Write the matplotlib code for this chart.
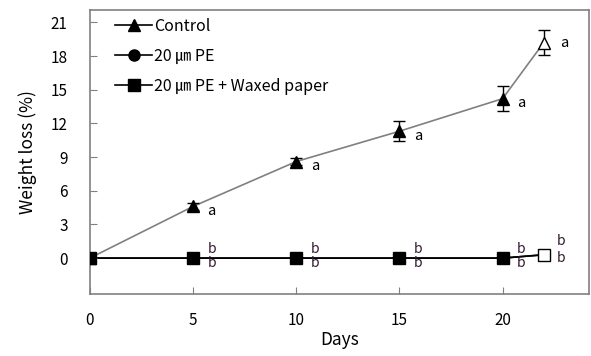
import numpy as np
import matplotlib
matplotlib.use("Agg")
import matplotlib.pyplot as plt

plt.rcParams['font.family'] = ['Noto Sans CJK KR', 'DejaVu Sans']

# Data
days = [0, 5, 10, 15, 20]
control = [0, 4.6, 8.6, 11.3, 14.2]
control_err = [0, 0.3, 0.3, 0.9, 1.1]
control_last_day = 22
control_last = 19.2
control_last_err = 1.1

pe = [0, 0, 0, 0, 0]
waxed = [0, 0, 0, 0, 0]
waxed_last = 0.3
pe_last = 0.3

yticks = [0, 3, 6, 9, 12, 15, 18, 21]
xticks = [0, 5, 10, 15, 20]

fig = plt.figure(figsize=(5.91, 3.56), dpi=100)
ax = fig.add_axes([0.152, 0.174, 0.845, 0.798])

gray = '#808080'
# control line
ax.plot(days + [control_last_day], control + [control_last], color=gray, lw=1.2, zorder=1)
ax.errorbar(days, control, yerr=control_err, fmt='none', ecolor='black', elinewidth=1, capsize=4, zorder=2)
ax.errorbar([control_last_day], [control_last], yerr=[control_last_err], fmt='none', ecolor='black',
            elinewidth=1, capsize=4, zorder=2)
ax.plot(days, control, '^', color='black', ms=8, ls='none', zorder=3)
ax.plot([control_last_day], [control_last], '^', mfc='white', mec='black', ms=8, zorder=3)

# PE and waxed
ax.plot(days + [control_last_day], pe + [pe_last], color='black', lw=1.2, zorder=1)
ax.plot(days, pe, 'o', color='black', ms=8, ls='none', zorder=3)
ax.plot(days + [control_last_day], waxed + [waxed_last], color='black', lw=1.2, zorder=1)
ax.plot(days, waxed, 's', color='black', ms=9, ls='none', zorder=4)
ax.plot([control_last_day], [waxed_last], 's', mfc='white', mec='black', ms=9, zorder=4)

# legend handles
h1, = ax.plot([], [], '-^', color='black', ms=8, lw=1.2)
h2, = ax.plot([], [], '-o', color='black', ms=8, lw=1.2)
h3, = ax.plot([], [], '-s', color='black', ms=8, lw=1.2)
ax.legend([h1, h2, h3], ['Control', '20 ㎛ PE', '20 ㎛ PE + Waxed paper'],
          loc='upper left', frameon=False, fontsize=11.5, handlelength=2.3,
          handletextpad=0.1, borderaxespad=0, borderpad=0.5, labelspacing=0.8,
          bbox_to_anchor=(0.035, 1.0))

# significance letters
for d, c in zip(days[1:], control[1:]):
    ax.text(d + 0.9, c - 0.4, 'a', fontsize=10.5, va='center', ha='center')
ax.text(control_last_day + 1.0, control_last, 'a', fontsize=10.5, va='center', ha='center')
for d in days[1:]:
    ax.text(d + 0.9, 0.8, 'b', fontsize=10, va='center', ha='center', color='#301830')
    ax.text(d + 0.9, -0.45, 'b', fontsize=10, va='center', ha='center', color='#301830')
ax.text(control_last_day + 0.85, 1.55, 'b', fontsize=10, va='center', ha='center', color='#301830')
ax.text(control_last_day + 0.85, 0.05, 'b', fontsize=10, va='center', ha='center', color='#301830')

ax.set_xlim(0, 24.2)
ax.set_ylim(-3.2, 22.1)
ax.set_xticks(xticks)
ax.set_yticks(yticks)
ax.tick_params(direction='in', color=gray, labelsize=11, length=5)
ax.tick_params(axis='y', pad=16)
ax.tick_params(axis='x', pad=13)
for s in ax.spines.values():
    s.set_color(gray)
    s.set_linewidth(1.2)
ax.set_xlabel('Days', fontsize=12.5, labelpad=1)
ax.set_ylabel('Weight loss (%)', fontsize=12.5, labelpad=10)

fig.savefig('out.png', dpi=100)
